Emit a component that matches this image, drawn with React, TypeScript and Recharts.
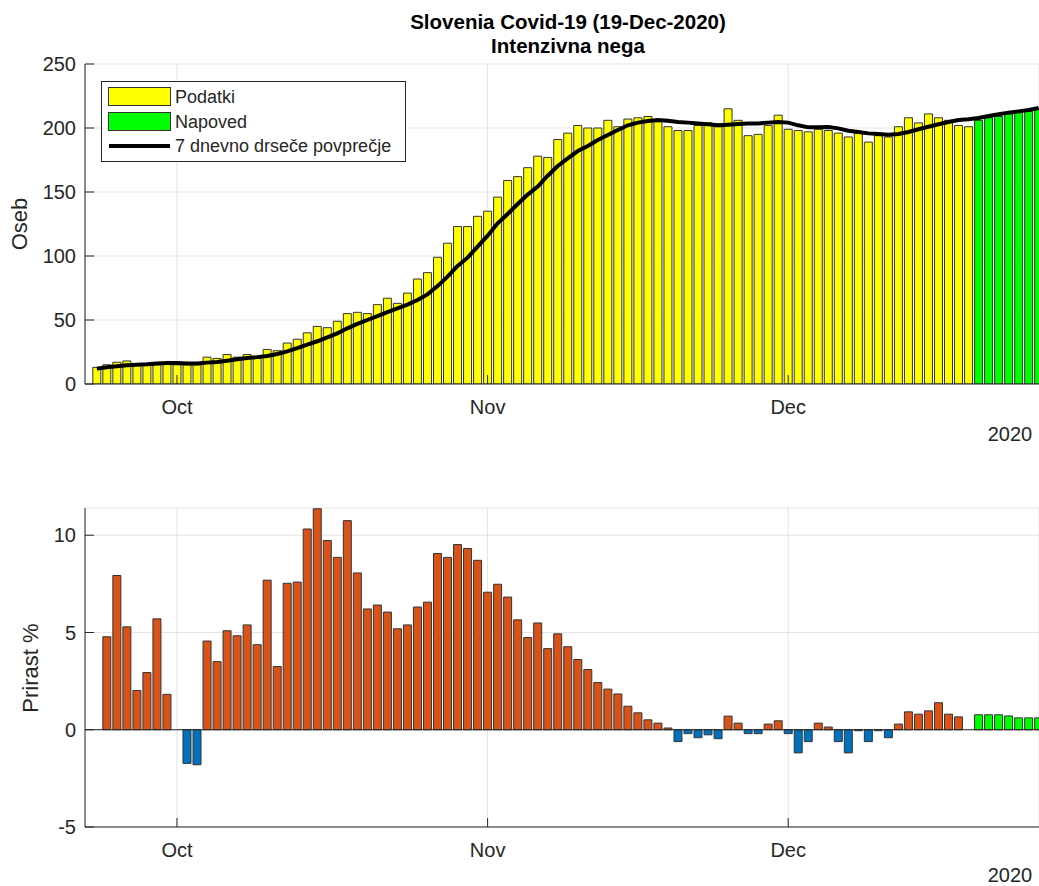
import React from "react";
import {
  Bar,
  CartesianGrid,
  Cell,
  ComposedChart,
  Line,
  ReferenceLine,
  XAxis,
  YAxis,
} from "recharts";

// day index counted from 1 Oct 2020; the series start on 23 Sep 2020
const FIRST_DAY = -8;

// Intenzivna nega, 23 Sep – 19 Dec
const podatki = [
  13, 15, 17, 18, 15, 15, 15, 16,
  15, 15, 15, 21, 20, 23, 21, 23, 20, 27, 26, 32, 35, 40, 45, 44, 49, 55, 56, 55, 62, 67, 63, 71, 82, 87,
  99, 110, 123, 123, 131,
  135, 146, 159, 162, 169, 178, 177, 191, 196, 202, 200, 200, 206, 201, 207, 208, 209, 205, 201, 198, 198,
  202, 204, 201, 215, 206, 194, 195, 202, 210,
  199, 198, 197, 199, 198, 196, 193, 196, 189, 194, 193, 201, 208, 204, 211, 208, 206, 202, 201,
];

// forecast, 20 Dec – 26 Dec
const napoved = [206, 208, 209, 211, 212, 213, 215];

// 7 day moving average, 23 Sep – 26 Dec
const povprecje = [
  12.0, 13.0, 13.8, 14.6, 15.1, 15.4, 16.1, 16.4,
  16.4, 16.1, 16.1, 16.7, 17.2, 18.2, 19.3, 20.3, 21.0, 21.9, 23.4, 25.5, 28.0, 30.7, 33.4, 36.4, 39.6,
  43.5, 46.9, 50.0, 53.0, 56.2, 59.1, 62.0, 65.6, 70.0, 76.5, 83.9, 92.2, 98.7, 107.3,
  115.9, 125.5, 132.8, 140.6, 148.0, 154.2, 162.7, 170.3, 176.3, 182.0, 186.0, 190.6, 194.5, 198.4, 202.1,
  204.2, 205.5, 206.2, 205.7, 204.7, 204.2, 203.6, 202.9, 202.1, 202.6, 203.1, 203.6, 203.6, 204.2, 204.7,
  204.2, 202.1, 200.5, 200.5, 200.8, 199.7, 197.9, 196.9, 195.8, 195.3, 194.8, 195.3, 196.9, 199.0, 201.0,
  202.9, 204.7, 206.2, 206.8, 207.8, 209.4, 210.7, 212.0, 213.0, 214.0, 215.6,
];

// Prirast %, 23 Sep – 19 Dec
const prirast = [
  null, 4.78, 7.93, 5.29, 2.02, 2.94, 5.7, 1.82,
  0, -1.73, -1.8, 4.56, 3.5, 5.09, 4.83, 5.39, 4.37, 7.69, 3.25, 7.53, 7.59, 10.32, 11.36, 9.73, 8.86,
  10.75, 8.06, 6.21, 6.41, 6.05, 5.19, 5.39, 6.31, 6.56, 9.06, 8.86, 9.52, 9.32, 8.71,
  7.07, 7.48, 6.82, 5.65, 4.74, 5.49, 4.17, 4.93, 4.27, 3.61, 3.1, 2.43, 2.09, 1.84, 1.21,
  0.87, 0.51, 0.34, 0.09, -0.61, -0.2, -0.41, -0.26, -0.46, 0.7, 0.34, -0.2, -0.2, 0.29, 0.46,
  -0.2, -1.19, -0.61, 0.34, 0.14, -0.61, -1.19, -0.05, -0.61, -0.05, -0.41, 0.29, 0.92, 0.8, 0.97,
  1.39, 0.8, 0.66, 0,
];

// Prirast % forecast, 20 Dec – 26 Dec
const prirastNapoved = [0.77, 0.77, 0.77, 0.71, 0.61, 0.61, 0.61];

const monthTicks = [0, 31, 61];
const monthLabels = ["Oct", "Nov", "Dec"];
const osebTicks = [0, 50, 100, 150, 200, 250];
const prirastTicks = [-5, 0, 5, 10];

const rows = povprecje.map((avg, i) => ({
  day: FIRST_DAY + i,
  podatki: i < podatki.length ? podatki[i] : undefined,
  napoved: i >= podatki.length ? napoved[i - podatki.length] : undefined,
  povprecje: avg,
  prirast: i < prirast.length ? prirast[i] : undefined,
  prirastNapoved: i >= prirast.length ? prirastNapoved[i - prirast.length] : undefined,
}));

const FONT = "'Liberation Sans', Arial, Helvetica, sans-serif";
const AXIS = "#262626";
const GRID = "#e3e3e3";
const X_DOMAIN: [number, number] = [-9.18, 86.03];
const tickStyle = { fill: AXIS, fontSize: 20 };
const monthName = (v: number) => monthLabels[monthTicks.indexOf(v)] ?? "";

function TopChart() {
  return (
    <ComposedChart
      width={1039}
      height={460}
      data={rows}
      margin={{ top: 64, right: 0, bottom: 46, left: 0 }}
    >
      <CartesianGrid stroke={GRID} />
      <XAxis
        dataKey="day"
        type="number"
        domain={X_DOMAIN}
        allowDataOverflow
        ticks={monthTicks}
        interval={0}
        tickFormatter={monthName}
        height={30}
        tickSize={-9}
        tickMargin={25}
        tick={tickStyle}
        stroke={AXIS}
      />
      <YAxis
        domain={[0, 250]}
        ticks={osebTicks}
        allowDataOverflow
        width={85}
        tickSize={-9}
        tickMargin={18}
        tick={tickStyle}
        stroke={AXIS}
      />
      <Bar dataKey="podatki" stackId="a" fill="#ffff00" stroke="#333" strokeWidth={1} barSize={8} isAnimationActive={false} />
      <Bar dataKey="napoved" stackId="a" fill="#00ff00" stroke="#333" strokeWidth={1} barSize={8} isAnimationActive={false} />
      <Line dataKey="povprecje" type="linear" stroke="#000" strokeWidth={4} dot={false} isAnimationActive={false} />
    </ComposedChart>
  );
}

function BottomChart() {
  return (
    <ComposedChart
      width={1039}
      height={426}
      data={rows}
      stackOffset="sign"
      margin={{ top: 48, right: 0, bottom: 29, left: 0 }}
    >
      <CartesianGrid stroke={GRID} />
      <XAxis
        dataKey="day"
        type="number"
        domain={X_DOMAIN}
        allowDataOverflow
        ticks={monthTicks}
        interval={0}
        tickFormatter={monthName}
        height={30}
        tickSize={-9}
        tickMargin={25}
        tick={tickStyle}
        stroke={AXIS}
      />
      <YAxis
        domain={[-5, 11.4]}
        ticks={prirastTicks}
        allowDataOverflow
        width={85}
        tickSize={-9}
        tickMargin={18}
        tick={tickStyle}
        stroke={AXIS}
      />
      <Bar dataKey="prirast" stackId="b" stroke="#333" strokeWidth={1} barSize={8} isAnimationActive={false}>
        {rows.map((r, i) => (
          <Cell key={i} fill={(r.prirast ?? 0) < 0 ? "#0072bd" : "#d95319"} />
        ))}
      </Bar>
      <Bar dataKey="prirastNapoved" stackId="b" fill="#00ff00" stroke="#333" strokeWidth={1} barSize={8} isAnimationActive={false} />
      <ReferenceLine y={0} stroke={AXIS} strokeWidth={1} />
    </ComposedChart>
  );
}

const abs = (left: number, top: number): React.CSSProperties => ({
  position: "absolute",
  left,
  top,
  transform: "translate(-50%, -50%)",
  whiteSpace: "nowrap",
});

function Legend() {
  const swatch = (top: number, color: string): React.CSSProperties => ({
    position: "absolute",
    left: 6,
    top,
    width: 61,
    height: 17,
    background: color,
    border: "1px solid #333",
  });
  const label = (top: number): React.CSSProperties => ({
    position: "absolute",
    left: 73,
    top,
    fontSize: 18,
    lineHeight: "20px",
    color: AXIS,
    whiteSpace: "nowrap",
  });
  return (
    <div
      style={{
        position: "absolute",
        left: 101,
        top: 81,
        width: 303,
        height: 79,
        border: "1px solid #262626",
        background: "#fff",
      }}
    >
      <div style={swatch(5, "#ffff00")} />
      <div style={label(5)}>Podatki</div>
      <div style={swatch(30, "#00ff00")} />
      <div style={label(30)}>Napoved</div>
      <div style={{ position: "absolute", left: 7, top: 62, width: 61, height: 4, background: "#000" }} />
      <div style={label(54)}>7 dnevno drseče povprečje</div>
    </div>
  );
}

export default function App() {
  return (
    <div
      style={{
        position: "absolute",
        left: 0,
        top: 0,
        width: 1039,
        height: 886,
        overflow: "hidden",
        background: "#fff",
        fontFamily: FONT,
      }}
    >
      <div style={{ position: "absolute", left: 0, top: 0 }}>
        <TopChart />
      </div>
      <div style={{ position: "absolute", left: 0, top: 460 }}>
        <BottomChart />
      </div>
      <div style={{ ...abs(568, 22), fontSize: 20.5, fontWeight: "bold", color: "#000" }}>
        Slovenia Covid-19 (19-Dec-2020)
      </div>
      <div style={{ ...abs(568, 46), fontSize: 20.5, fontWeight: "bold", color: "#000" }}>
        Intenzivna nega
      </div>
      <div style={{ ...abs(20, 224), transform: "translate(-50%, -50%) rotate(-90deg)", fontSize: 22, color: AXIS }}>
        Oseb
      </div>
      <div style={{ ...abs(31, 668), transform: "translate(-50%, -50%) rotate(-90deg)", fontSize: 22, color: AXIS }}>
        Prirast %
      </div>
      <div style={{ ...abs(1010, 434), fontSize: 20, color: AXIS }}>2020</div>
      <div style={{ ...abs(1010, 875), fontSize: 20, color: AXIS }}>2020</div>
      <Legend />
    </div>
  );
}
